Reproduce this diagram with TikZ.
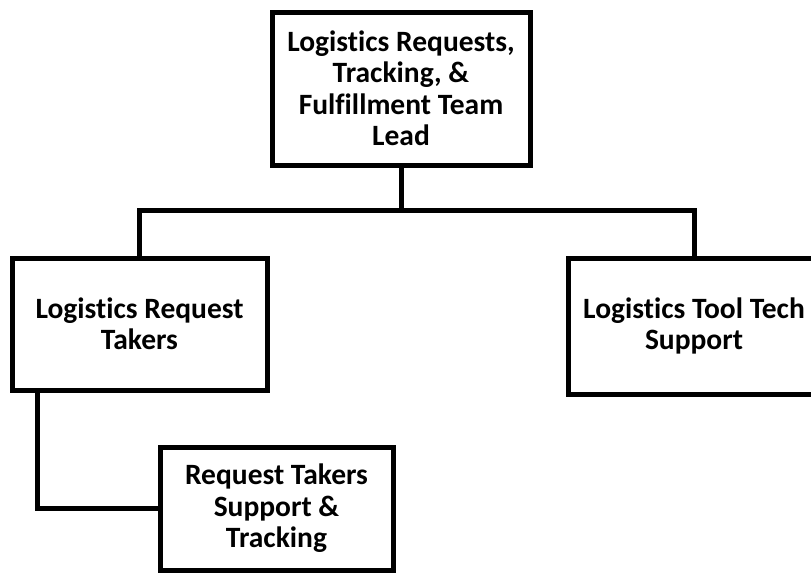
\documentclass[tikz,border=0pt]{standalone}
\usepackage{fontspec}
\setmainfont[RawFeature=-liga]{Carlito}
\begin{document}
\begin{tikzpicture}[x=1pt,y=-1pt,
  orgbox/.style={draw=black, line width=5pt, fill=white, rectangle, inner sep=0pt, outer sep=0pt,
    align=center, font=\fontsize{29.5}{31.5}\selectfont\bfseries},
  link/.style={draw=black, line width=5pt}]
\useasboundingbox (0,0) rectangle (811,574);
\clip (0,0) rectangle (811,574);
\node[orgbox, minimum width=258pt, minimum height=153pt] (top) at (401,88.5)
  {Logistics Requests,\\Tracking, \&\\Fulfillment Team\\Lead};
\node[orgbox, minimum width=255pt, minimum height=132pt] (left) at (139.5,324)
  {Logistics Request\\Takers};
\node[orgbox, minimum width=252pt, minimum height=136pt] (right) at (694,326)
  {Logistics Tool Tech\\Support};
\node[orgbox, minimum width=233pt, minimum height=123pt] (sub) at (276.5,508.5)
  {Request Takers\\Support \&\\Tracking};
\coordinate (bus) at (401,210);
\coordinate (drop) at ([xshift=25pt]left.south west);
\draw[link] (top.south) -- (bus);
\draw[link] (left.north) |- (bus) -| (right.north);
\draw[link] (drop) |- (sub.west);
\end{tikzpicture}
\end{document}
